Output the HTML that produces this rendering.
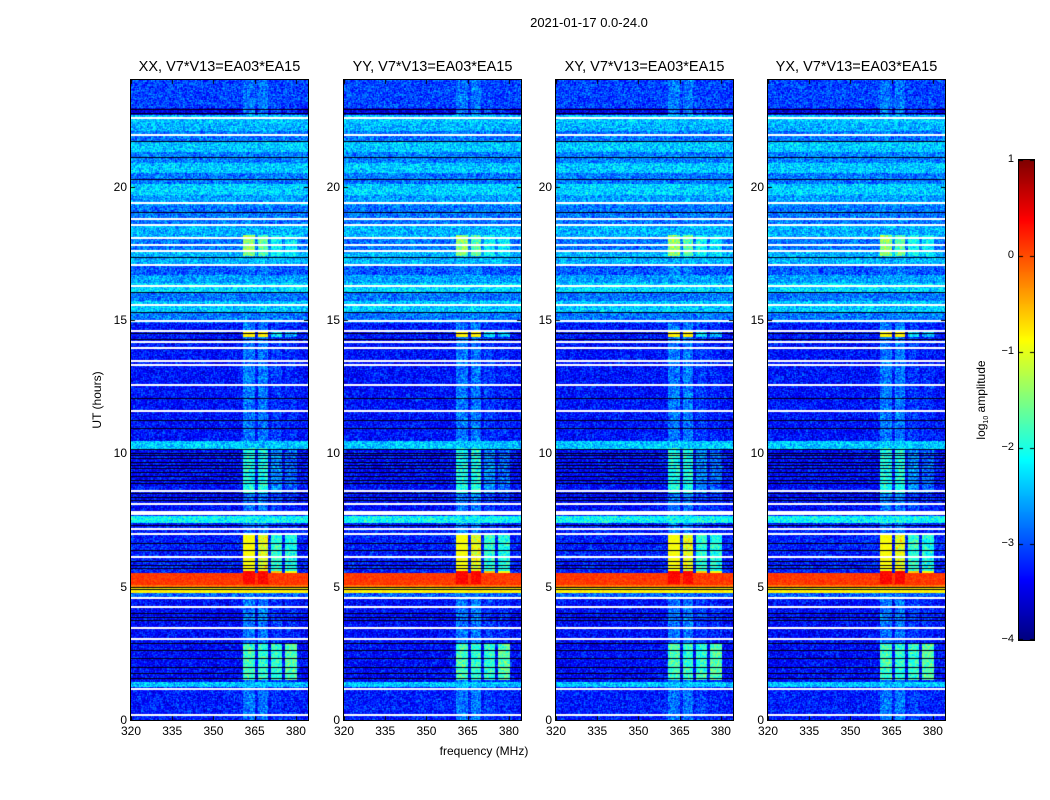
<!DOCTYPE html>
<html><head><meta charset="utf-8"><style>
body{margin:0;background:#fff;width:1050px;height:800px;overflow:hidden;position:relative;font-family:"Liberation Sans",sans-serif;color:#000}
canvas{position:absolute}
.t{position:absolute;font-size:12px;white-space:nowrap}
</style></head><body>
<div class="t" style="left:0;width:1178px;text-align:center;top:15px;font-size:13px">2021-01-17 0.0-24.0</div>
<div class="t" style="left:97px;top:400px;transform:translate(-50%,-50%) rotate(-90deg);font-size:12px">UT (hours)</div>
<div class="t" style="left:484px;top:744px;transform:translateX(-50%);font-size:12px">frequency (MHz)</div>
<div id="panels"></div>
<canvas id="cbar" width="15" height="480" style="left:1019px;top:160px;outline:1px solid #000"></canvas>
<div class="t" style="left:982px;top:400px;transform:translate(-50%,-50%) rotate(-90deg);font-size:12px">log<sub style="font-size:7px">10</sub> amplitude</div>
<div id="cbticks"></div>
<script>
const panelTitles=["XX, V7*V13=EA03*EA15","YY, V7*V13=EA03*EA15","XY, V7*V13=EA03*EA15","YX, V7*V13=EA03*EA15"];
const panelLefts=[131,344,556,768];
const xTicks=[320,335,350,365,380];
const yTicks=[0,5,10,15,20];
const cbTicks=[1,0,-1,-2,-3,-4];
// time bands [startHour,endHour,log10 level]
const bandStart=[0,1.25,1.42,4.6,4.76,4.95,5.05,5.5,7.4,7.85,10.15,10.45,14.9,15.3,15.7,16.0,16.4,16.7,17.05,17.6,18.1,18.6,19.3,19.7,20.1,20.5,20.9,21.3,21.7,22.1,22.4,22.7,22.95];
const bandEnd=[1.25,1.42,4.6,4.76,4.95,5.05,5.5,7.4,7.65,10.15,10.45,14.9,15.3,15.7,16.0,16.4,16.7,17.05,17.6,18.1,18.6,19.3,19.7,20.1,20.5,20.9,21.3,21.7,22.1,22.4,22.7,22.95,24];
const bandLevel=[-3.25,-2.4,-3.35,-2.9,-0.8,-0.2,0.1,-3.25,-2.1,-3.35,-2.4,-3.3,-2.8,-2.4,-2.8,-2.3,-2.6,-2.95,-2.5,-2.8,-2.5,-2.8,-2.6,-2.35,-2.8,-2.4,-2.75,-2.4,-2.8,-2.5,-2.4,-3.5,-3.05];
// flagged (white) rows, hours
const flags=[0.2,1.16,3.04,3.45,4.24,4.57,6.1,6.97,7.16,7.72,7.8,8.1,8.6,11.6,12.56,13.3,13.46,13.95,14.17,14.6,14.96,15.56,16.27,17.06,17.6,17.8,18.07,18.55,18.8,19.4,21.93,22.57];
// dark rows, hours
const darks=[1.57,1.76,1.99,2.32,2.62,2.89,3.75,3.86,4.0,4.9,4.99,5.7,5.81,5.96,6.37,6.64,7.31,8.25,8.36,8.5,8.89,9.0,9.15,9.3,9.45,9.56,9.67,9.82,9.94,10.0,10.16,10.95,11.25,12.07,14.3,14.5,15.3,16.05,17.36,19.05,20.3,21.1,21.7,22.75,22.9];
// RFI channel columns (MHz)
const colStart=[360.7,366.2,370.9,376];
const colEnd=[365.1,369.8,374.9,380.4];
// RFI time blocks and per-column levels
const rfiStart=[0,1.5,5.1,5.5,8.5,14.35,17.4];
const rfiEnd=[24,2.9,5.6,7.0,10.2,14.55,18.2];
const rfiLevels=[[-2.8,-2.8,-3.1,-3.2],[-1.8,-1.9,-1.9,-1.7],[0.35,0.35,-0.6,-0.9],[-0.9,-1.0,-1.9,-2.0],[-2.0,-2.0,-2.7,-2.9],[-0.8,-0.8,-2.3,-2.5],[-1.4,-1.7,-2.1,-2.2]];

const W=177,H=640,F0=320,F1=384.4,T0=0,T1=24;
const xScale=f=>(f-F0)/(F1-F0)*W;
const yScale=h=>H-(h-T0)/(T1-T0)*H;
function jet(v){let t=(v+4)/5;t=Math.max(0,Math.min(1,t));
 const c=x=>Math.max(0,Math.min(1,x));
 return [c(1.5-Math.abs(4*t-3)),c(1.5-Math.abs(4*t-2)),c(1.5-Math.abs(4*t-1))].map(x=>Math.round(x*255));}
function hash(a,b,s){let h=(a*374761393+b*668265263+s*982451653)|0;h=(h^(h>>>13))*1274126177|0;h=h^(h>>>16);return ((h>>>0)%10000)/10000;}
const root=document.getElementById('panels');
panelTitles.forEach((title,p)=>{
 const L=panelLefts[p];
 const cv=document.createElement('canvas');cv.width=W;cv.height=H;
 cv.style.left=L+'px';cv.style.top='80px';cv.style.outline='1px solid #000';
 
 
 root.appendChild(cv);
 const ctx=cv.getContext('2d');const img=ctx.createImageData(W,H);
 for(let y=0;y<H;y++){
  const h=T1-(y+0.5)/H*(T1-T0);
  let base=-3.2;
  for(let i=0;i<bandStart.length;i++) if(h>=bandStart[i]&&h<bandEnd[i]) base=bandLevel[i];
  for(let x=0;x<W;x++){
   const f=F0+(x+0.5)/W*(F1-F0);
   let v=base;
   for(let c=0;c<colStart.length;c++) if(f>=colStart[c]&&f<colEnd[c])
     for(let r=0;r<rfiStart.length;r++) if(h>=rfiStart[r]&&h<rfiEnd[r]) v=Math.max(v,rfiLevels[r][c]);
   const n=(hash(x>>1,y,p+1)+hash(x,y>>1,p+7)-1)*0.55;
   v+=n*(v>-1?0.3:1);
   const [r,g,b]=jet(v);const k=(y*W+x)*4;
   img.data[k]=r;img.data[k+1]=g;img.data[k+2]=b;img.data[k+3]=255;
  }
 }
 ctx.putImageData(img,0,0);
 darks.forEach(hh=>{ctx.fillStyle='#000018';ctx.fillRect(0,Math.round(yScale(hh)),W,1);});
 flags.forEach(hh=>{ctx.fillStyle='#fff';ctx.fillRect(0,Math.round(yScale(hh))-1,W,2);});
 ctx.fillStyle='#000';
 xTicks.forEach(t=>{const x=Math.round(xScale(t));ctx.fillRect(x,0,1,4);ctx.fillRect(x,H-4,1,4);});
 yTicks.forEach(t=>{const y=Math.round(yScale(t));ctx.fillRect(0,y,4,1);ctx.fillRect(W-4,y,4,1);});
 const tt=document.createElement('div');tt.className='t';tt.textContent=title;
 
 
 tt.style.cssText=`left:${L+W/2}px;top:59px;transform:translateX(-50%);font-size:14.5px`;root.appendChild(tt);
 xTicks.forEach(t=>{const d=document.createElement('div');d.className='t';d.textContent=t;
  
  
  d.style.cssText=`left:${L+xScale(t)}px;top:724px;transform:translateX(-50%)`;root.appendChild(d);});
 yTicks.forEach(t=>{const d=document.createElement('div');d.className='t';d.textContent=t;
  
  
  d.style.cssText=`right:${1050-L+4}px;top:${80+yScale(t)-7}px`;root.appendChild(d);});
});
const cb=document.getElementById('cbar').getContext('2d');
for(let y=0;y<480;y++){const v=1-(y+0.5)/480*5;const [r,g,b]=jet(v);cb.fillStyle=`rgb(${r},${g},${b})`;cb.fillRect(0,y,15,1);}
const ct=document.getElementById('cbticks');
cbTicks.forEach(t=>{const y=160+(1-t)/5*480;
 const d=document.createElement('div');d.className='t';d.textContent=(t<0?'\u2212'+(-t):t);
 
 
 d.style.cssText=`right:${1050-1014}px;top:${y-7}px;font-size:11px`;ct.appendChild(d);
 cb.fillStyle='#000';cb.fillRect(0,Math.min(479,y-160),4,1);cb.fillRect(11,Math.min(479,y-160),4,1);});
</script>
</body></html>
